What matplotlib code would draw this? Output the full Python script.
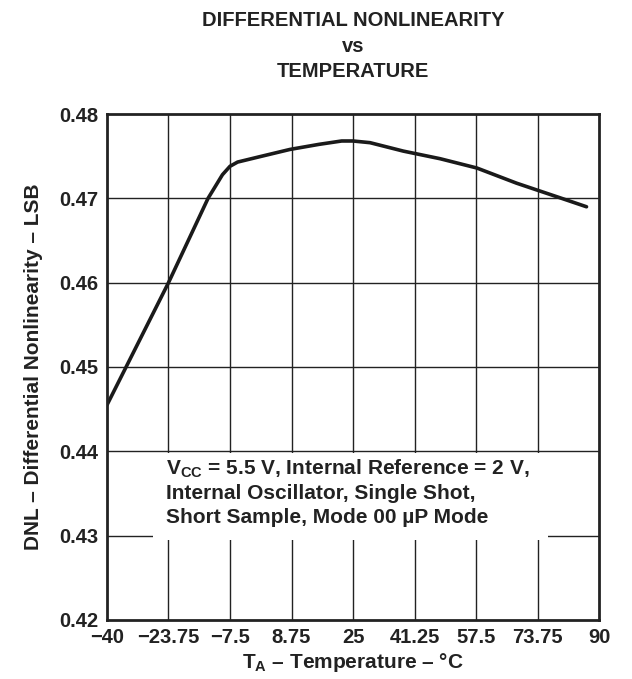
import matplotlib
matplotlib.use("Agg")
import matplotlib.pyplot as plt
from matplotlib.patches import Rectangle

plt.rcParams['font.family'] = ['Liberation Sans', 'DejaVu Sans']
plt.rcParams['font.weight'] = 'bold'
plt.rcParams['mathtext.fontset'] = 'custom'
plt.rcParams['mathtext.rm'] = 'Liberation Sans:bold'
plt.rcParams['mathtext.bf'] = 'Liberation Sans:bold'

# === Data ===
temp = [-40, -23.75, -13.3, -9.5, -7.5, -5.5, 0, 8.35, 16, 22, 25, 29.5,
        38.3, 48, 57.7, 68.2, 78.8, 86.7]
dnl = [0.4455, 0.4600, 0.4700, 0.4728, 0.4738, 0.4743, 0.4749, 0.4758,
       0.4764, 0.4768, 0.4768, 0.4766, 0.4756, 0.4747, 0.4736, 0.4718,
       0.4702, 0.4690]

x_ticks = [-40, -23.75, -7.5, 8.75, 25, 41.25, 57.5, 73.75, 90]
x_labels = ["\u221240", "\u221223.75", "\u22127.5", "8.75", "25", "41.25", "57.5", "73.75", "90"]
y_ticks = [0.42, 0.43, 0.44, 0.45, 0.46, 0.47, 0.48]
y_labels = ["0.42", "0.43", "0.44", "0.45", "0.46", "0.47", "0.48"]

fig = plt.figure(figsize=(6.32, 6.79), dpi=100)
ax = fig.add_axes([0.1693, 0.0869, 0.7785, 0.7452])

ax.set_xlim(-40, 90)
ax.set_ylim(0.42, 0.48)

# grid drawn by hand so the note box can cover part of it
for xv in x_ticks[1:-1]:
    ax.axvline(xv, color='#222222', lw=1.0, zorder=1)
for yv in y_ticks[1:-1]:
    ax.axhline(yv, color='#222222', lw=1.0, zorder=1)

ax.add_patch(Rectangle((-27.9, 0.4295), 104.4, 0.0103, facecolor='white',
                       edgecolor='none', zorder=2))

ax.plot(temp, dnl, color='#1a1a1a', lw=2.6, zorder=3, solid_capstyle='round')

note = ("V$_{\\mathregular{CC}}$ = 5.5 V, Internal Reference = 2 V,\n"
        "Internal Oscillator, Single Shot,\n"
        "Short Sample, Mode 00 \u00b5P Mode")
ax.text(-24.4, 0.4393, note, fontsize=15, fontweight='bold', color='#222222',
        va='top', ha='left', linespacing=1.3, zorder=4)

ax.set_xticks(x_ticks)
ax.set_xticklabels(x_labels)
ax.set_yticks(y_ticks)
ax.set_yticklabels(y_labels)
ax.tick_params(length=0, labelsize=14.5, colors='#222222', pad=6)
for lab in ax.get_xticklabels() + ax.get_yticklabels():
    lab.set_fontweight('bold')

for s in ax.spines.values():
    s.set_linewidth(2.0)
    s.set_color('#222222')
    s.set_zorder(5)

ax.set_xlabel("T$_{\\mathregular{A}}$ \u2013 Temperature \u2013 \u00b0C", fontsize=15,
              fontweight='bold', color='#222222', labelpad=3)
ax.set_ylabel("DNL \u2013 Differential Nonlinearity \u2013 LSB", fontsize=15,
              fontweight='bold', color='#222222', labelpad=12)

fig.text(0.559, 0.970, "DIFFERENTIAL NONLINEARITY", ha='center', va='center',
         fontsize=14.5, fontweight='bold', color='#222222')
fig.text(0.559, 0.931, "vs", ha='center', va='center',
         fontsize=14.5, fontweight='bold', color='#222222')
fig.text(0.559, 0.894, "TEMPERATURE", ha='center', va='center',
         fontsize=14.5, fontweight='bold', color='#222222')

fig.savefig("out.png", dpi=100)
